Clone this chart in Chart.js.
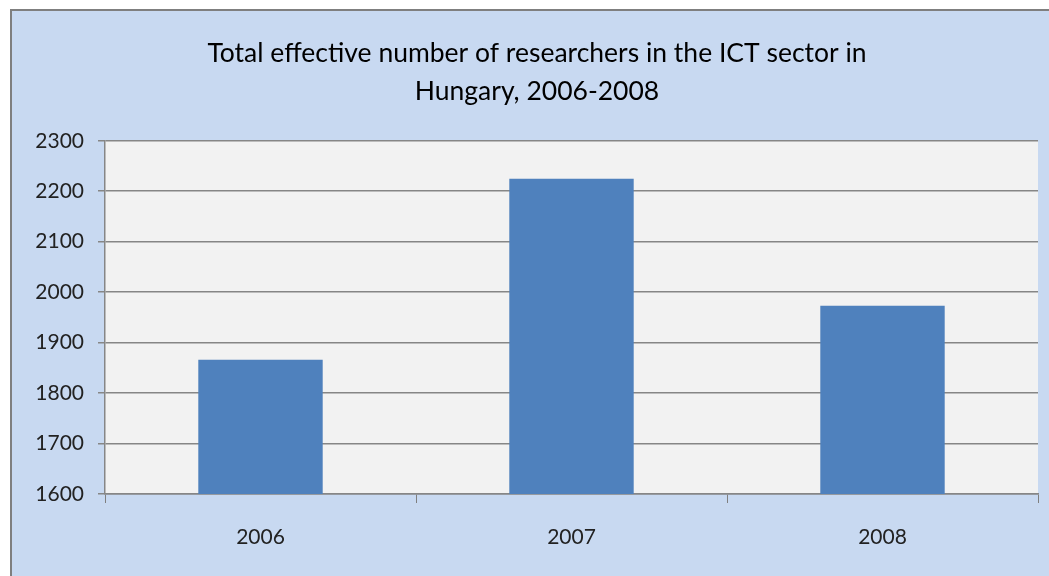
<!DOCTYPE html>
<html>
<head>
<meta charset="utf-8">
<script src="https://cdn.jsdelivr.net/npm/chart.js@4"></script>
<style>
  html, body { margin: 0; padding: 0; background: #ffffff; }
  #marco {
    position: absolute; left: 10px; top: 9px;
    width: 1037px; height: 565px;
    border-left: 2px solid #7f7f7f; border-top: 2px solid #7f7f7f;
    background: #c8d9f1;
  }
  #chartBarras { display: block; }
</style>
</head>
<body>
<div id="marco"><canvas id="chartBarras" width="1037" height="565"></canvas></div>
<script>
const barras = document.getElementById('chartBarras');

// Datos del gráfico
const anios = ['2006', '2007', '2008'];
const investigadores = [1866, 2225, 1973];
const ejeMin = 1600;
const ejeMax = 2300;
const paso = 100;

// Fondo gris claro del área de trazado
const fondoArea = {
    id: 'fondoArea',
    beforeDraw(chart) {
        const { ctx, chartArea: a } = chart;
        ctx.save();
        ctx.fillStyle = '#f2f2f2';
        ctx.fillRect(a.left, a.top, a.right - a.left, a.bottom - a.top);
        ctx.restore();
    }
};

const chartBarras = new Chart(barras, {
    type: 'bar',
    data: {
        labels: anios,
        datasets: [{
            data: investigadores,
            backgroundColor: '#4f81bd',
            borderWidth: 0,
            barPercentage: 0.4,
            categoryPercentage: 1.0
        }]
    },
    options: {
        responsive: false,
        animation: false,
        layout: { padding: { left: 24, right: 11, top: 0, bottom: 0 } },
        plugins: {
            legend: { display: false },
            tooltip: { enabled: false },
            title: {
                display: true,
                text: ['Total effective number of researchers in the ICT sector in', 'Hungary, 2006-2008'],
                color: '#000000',
                font: { family: 'Lato', size: 26.5, weight: 'normal', lineHeight: 1.43 },
                padding: { top: 24, bottom: 30 }
            }
        },
        scales: {
            x: {
                grid: {
                    offset: true,
                    drawOnChartArea: false,
                    color: '#7f7f7f',
                    tickLength: 9
                },
                border: { color: '#868686', width: 1.5 },
                ticks: {
                    color: '#222222',
                    font: { family: 'Lato', size: 21 },
                    padding: 22
                },
                afterFit(s) { s.height = 82; }
            },
            y: {
                min: ejeMin,
                max: ejeMax,
                ticks: {
                    stepSize: paso,
                    color: '#222222',
                    font: { family: 'Lato', size: 21 },
                    padding: 14,
                    callback: (v) => String(v)
                },
                grid: {
                    color: '#868686',
                    lineWidth: 1.5,
                    tickLength: 7
                },
                border: { color: '#868686', width: 1.5 },
                afterFit(s) { s.width = 69; }
            }
        }
    },
    plugins: [fondoArea]
});
</script>
</body>
</html>
